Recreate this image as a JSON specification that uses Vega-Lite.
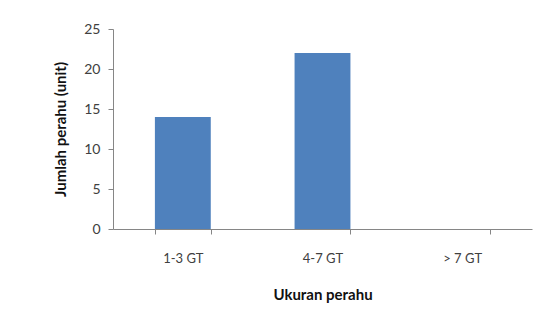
{
  "$schema": "https://vega.github.io/schema/vega-lite/v6.json",
  "width": 419,
  "height": 200,
  "autosize": {"type": "none"},
  "padding": {"left": 113, "top": 29, "right": 12, "bottom": 95},
  "background": "white",
  "config": {"view": {"stroke": null}, "font": "Lato"},
  "data": {"values": [
    {"ukuran": "1-3 GT", "jumlah": 14},
    {"ukuran": "4-7 GT", "jumlah": 22},
    {"ukuran": "> 7 GT", "jumlah": 0}
  ]},
  "mark": {"type": "bar", "color": "#4f81bd"},
  "encoding": {
    "x": {
      "field": "ukuran", "type": "nominal", "sort": null,
      "scale": {"paddingInner": 0.6, "paddingOuter": 0.3},
      "axis": {
        "title": "Ukuran perahu", "labelAngle": 0, "tickBand": "extent",
        "domainColor": "#868686", "tickColor": "#868686", "tickSize": 5,
        "labelFont": "Lato", "labelFontSize": 13, "labelColor": "#404040", "labelPadding": 18,
        "titleFont": "Lato", "titleFontSize": 15, "titleFontWeight": "bold", "titleColor": "#111111", "titlePadding": 22
      }
    },
    "y": {
      "field": "jumlah", "type": "quantitative",
      "scale": {"domain": [0, 25]},
      "axis": {
        "title": "Jumlah perahu (unit)", "values": [0, 5, 10, 15, 20, 25], "grid": false,
        "domainColor": "#868686", "tickColor": "#868686", "tickSize": 5,
        "labelFont": "Lato", "labelFontSize": 14, "labelColor": "#404040", "labelPadding": 8,
        "titleFont": "Lato", "titleFontSize": 15, "titleFontWeight": "bold", "titleColor": "#111111", "titlePadding": 15
      }
    }
  }
}
